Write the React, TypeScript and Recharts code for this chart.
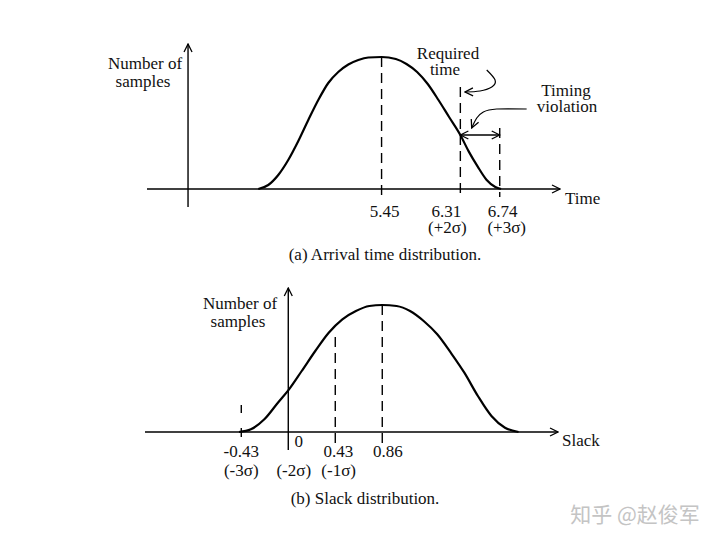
import React from "react";
import { LineChart, Line, XAxis, YAxis, ReferenceLine } from "recharts";

// ---- (a) Arrival time distribution ----
const arrivalTime = [4.104, 4.213, 4.322, 4.431, 4.541, 4.65, 4.759, 4.868, 4.977, 5.087, 5.196, 5.305, 5.45, 5.606, 5.722, 5.838, 5.954, 6.071, 6.187, 6.31, 6.401, 6.498, 6.595, 6.692, 6.755];
const arrivalSamples = [0, 4, 14, 29, 48, 69, 89, 106, 117, 124.5, 129, 131.5, 132, 130, 125, 117, 105, 89, 72, 54, 37.6, 22.6, 9.3, 2, 0];
const arrivalTicks = [5.45, 6.31, 6.74];
const arrivalTickText = ["5.45", "6.31", "6.74"];
const arrivalSigma = ["", "(+2σ)", "(+3σ)"];
const arrivalDashTop = [132, 102, 61];
const timeAxisStart = 2.889;
const timeAxisEnd = 7.398;
const timeSamplesAxisAt = 3.337;
const requiredArrowX = [6.598, 6.689, 6.653, 6.525, 6.361];
const requiredArrowY = [119, 109, 102, 98, 97];
const violationArrowX = [7.034, 6.707, 6.561, 6.489, 6.434];
const violationArrowY = [80, 80, 77, 71, 61];
const violationLevel = 54;

// ---- (b) Slack distribution ----
const slackValue = [-0.451, -0.342, -0.219, -0.095, 0.007, 0.123, 0.247, 0.37, 0.495, 0.619, 0.742, 0.86, 0.991, 1.114, 1.239, 1.363, 1.487, 1.611, 1.735, 1.859, 1.983, 2.107];
const slackSamples = [0, 2.7, 12.7, 29.3, 42.7, 61, 81, 99.3, 112.7, 121, 126, 127, 126, 121, 111, 97.7, 79.3, 59.3, 36, 16, 4.3, 0];
const slackTicks = [-0.43, 0, 0.43, 0.86];
const slackTickText = ["-0.43", "0", "0.43", "0.86"];
const slackSigma = ["(-3σ)", "(-2σ)", "(-1σ)", ""];
const slackDashTop = [27, null, 95, 127];
const slackAxisStart = -1.311;
const slackAxisEnd = 2.468;

const zip = (xs: number[], ys: number[]) => xs.map((x, i) => ({ x, y: ys[i] }));
const arrivalData = zip(arrivalTime, arrivalSamples);
const slackData = zip(slackValue, slackSamples);
const requiredArrow = zip(requiredArrowX, requiredArrowY);
const violationArrow = zip(violationArrowX, violationArrowY);

const SERIF = "'Liberation Serif', 'Times New Roman', serif";
const FS = 17;
const INK = "#111";

// layout tweaks for tick label placement (px)
const arrivalShift = [
  { dx: 3, dy: 9.7, sdx: 0 },
  { dx: -14, dy: 9.7, sdx: -13 },
  { dx: 3, dy: 9.7, sdx: 7 },
];
const slackShift = [
  { dx: 0, dy: 7.3, sdx: 0 },
  { dx: 10.5, dy: -3.3, sdx: 5.5 },
  { dx: 3, dy: 7.3, sdx: 3.4 },
  { dx: 5.7, dy: 7.3, sdx: 0 },
];

const makeTick = (texts: string[], sigmas: string[], shifts: { dx: number; dy: number; sdx: number }[], sigmaDy: number) =>
  (props: any) => {
    const { x, y, index } = props;
    const s = shifts[index] || { dx: 0, dy: 8, sdx: 0 };
    return (
      <g>
        <text x={x + s.dx} y={y + s.dy} textAnchor="middle" fontFamily={SERIF} fontSize={FS} fill={INK}>
          {texts[index]}
        </text>
        {sigmas[index] ? (
          <text x={x + s.sdx} y={y + sigmaDy} textAnchor="middle" fontFamily={SERIF} fontSize={FS} fill={INK}>
            {sigmas[index]}
          </text>
        ) : null}
      </g>
    );
  };

const dashStyle = { stroke: "#000", strokeWidth: 1.4, strokeDasharray: "10 6" };

export default function App() {
  return (
    <div style={{ position: "absolute", left: 0, top: 0, width: 720, height: 543, background: "#fff" }}>
      <div style={{ position: "absolute", left: 0, top: 0 }}>
        <LineChart width={720} height={270} margin={{ top: 44, right: 160, left: 147, bottom: 23 }}>
          <XAxis
            type="number"
            dataKey="x"
            domain={[timeAxisStart, timeAxisEnd]}
            allowDataOverflow
            ticks={arrivalTicks}
            interval={0}
            height={40}
            axisLine={false}
            tickLine={false}
            tickSize={0}
            tickMargin={0}
            tick={makeTick(arrivalTickText, arrivalSigma, arrivalShift, 26.3)}
          />
          <YAxis type="number" hide domain={[-18, 145]} allowDataOverflow />
          <ReferenceLine
            ifOverflow="visible"
            segment={[{ x: timeAxisStart, y: 0 }, { x: timeAxisEnd, y: 0 }]}
            stroke="#000"
            strokeWidth={1.4}
            markerEnd="url(#openArrow)"
          />
          <ReferenceLine
            ifOverflow="visible"
            segment={[{ x: timeSamplesAxisAt, y: -18 }, { x: timeSamplesAxisAt, y: 145 }]}
            stroke="#000"
            strokeWidth={1.4}
            markerEnd="url(#openArrow)"
          />
          {arrivalTicks.map((t, i) => (
            <ReferenceLine
              key={"ad" + i}
              ifOverflow="visible"
              segment={[{ x: t, y: arrivalDashTop[i] }, { x: t, y: -8 }]}
              {...dashStyle}
            />
          ))}
          <ReferenceLine
            ifOverflow="visible"
            segment={[{ x: arrivalTicks[1], y: violationLevel }, { x: arrivalTicks[2], y: violationLevel }]}
            stroke="#000"
            strokeWidth={1.3}
            markerStart="url(#openArrow)"
            markerEnd="url(#openArrow)"
          />
          <Line data={arrivalData} dataKey="y" type="monotone" stroke="#000" strokeWidth={2.2} dot={false} activeDot={false} isAnimationActive={false} />
          <Line data={requiredArrow} dataKey="y" type="natural" stroke="#000" strokeWidth={1.2} dot={false} activeDot={false} isAnimationActive={false} markerEnd="url(#openArrow)" />
          <Line data={violationArrow} dataKey="y" type="natural" stroke="#000" strokeWidth={1.2} dot={false} activeDot={false} isAnimationActive={false} markerEnd="url(#openArrow)" />
        </LineChart>
      </div>
      <div style={{ position: "absolute", left: 0, top: 270 }}>
        <LineChart width={720} height={273} margin={{ top: 18, right: 162, left: 145, bottom: 53 }}>
          <XAxis
            type="number"
            dataKey="x"
            domain={[slackAxisStart, slackAxisEnd]}
            allowDataOverflow
            ticks={slackTicks}
            interval={0}
            height={40}
            axisLine={false}
            tickLine={false}
            tickSize={0}
            tickMargin={0}
            tick={makeTick(slackTickText, slackSigma, slackShift, 26)}
          />
          <YAxis type="number" hide domain={[-18, 144]} allowDataOverflow />
          <ReferenceLine
            ifOverflow="visible"
            segment={[{ x: slackAxisStart, y: 0 }, { x: slackAxisEnd, y: 0 }]}
            stroke="#000"
            strokeWidth={1.4}
            markerEnd="url(#openArrow)"
          />
          <ReferenceLine
            ifOverflow="visible"
            segment={[{ x: 0, y: -18 }, { x: 0, y: 144 }]}
            stroke="#000"
            strokeWidth={1.4}
            markerEnd="url(#openArrow)"
          />
          {slackTicks.map((t, i) =>
            slackDashTop[i] === null ? null : (
              <ReferenceLine
                key={"sd" + i}
                ifOverflow="visible"
                segment={[{ x: t, y: slackDashTop[i] as number }, { x: t, y: i === 0 ? -5 : -11 }]}
                {...dashStyle}
                strokeDasharray={i === 0 ? "8 15 9" : "10 6"}
              />
            )
          )}
          <Line data={slackData} dataKey="y" type="monotone" stroke="#000" strokeWidth={2.2} dot={false} activeDot={false} isAnimationActive={false} />
        </LineChart>
      </div>
      <svg width={720} height={543} style={{ position: "absolute", left: 0, top: 0, pointerEvents: "none" }}>
        <defs>
          <marker id="openArrow" viewBox="0 0 10 10" refX="9" refY="5" markerWidth="10" markerHeight="10" markerUnits="userSpaceOnUse" orient="auto-start-reverse">
            <path d="M1,1 L9,5 L1,9" fill="none" stroke="#000" strokeWidth="1.3" />
          </marker>
        </defs>
        <g fontFamily={SERIF} fontSize={FS} fill={INK}>
          <text x={145} y={69} textAnchor="middle">Number of</text>
          <text x={143} y={86.5} textAnchor="middle">samples</text>
          <text x={448} y={58.5} textAnchor="middle">Required</text>
          <text x={445} y={75} textAnchor="middle">time</text>
          <text x={566} y={96} textAnchor="middle">Timing</text>
          <text x={567} y={112} textAnchor="middle">violation</text>
          <text x={565} y={204}>Time</text>
          <text x={385} y={259.5} textAnchor="middle">(a) Arrival time distribution.</text>
          <text x={240} y={309} textAnchor="middle">Number of</text>
          <text x={238} y={327} textAnchor="middle">samples</text>
          <text x={562} y={446}>Slack</text>
          <text x={365} y={503.5} textAnchor="middle">(b) Slack distribution.</text>
        </g>
        <text x={635} y={522} textAnchor="middle" fontFamily="'Noto Sans CJK SC', sans-serif" fontSize={21} fill="#c4c4c4">
          知乎 @赵俊军
        </text>
      </svg>
    </div>
  );
}
